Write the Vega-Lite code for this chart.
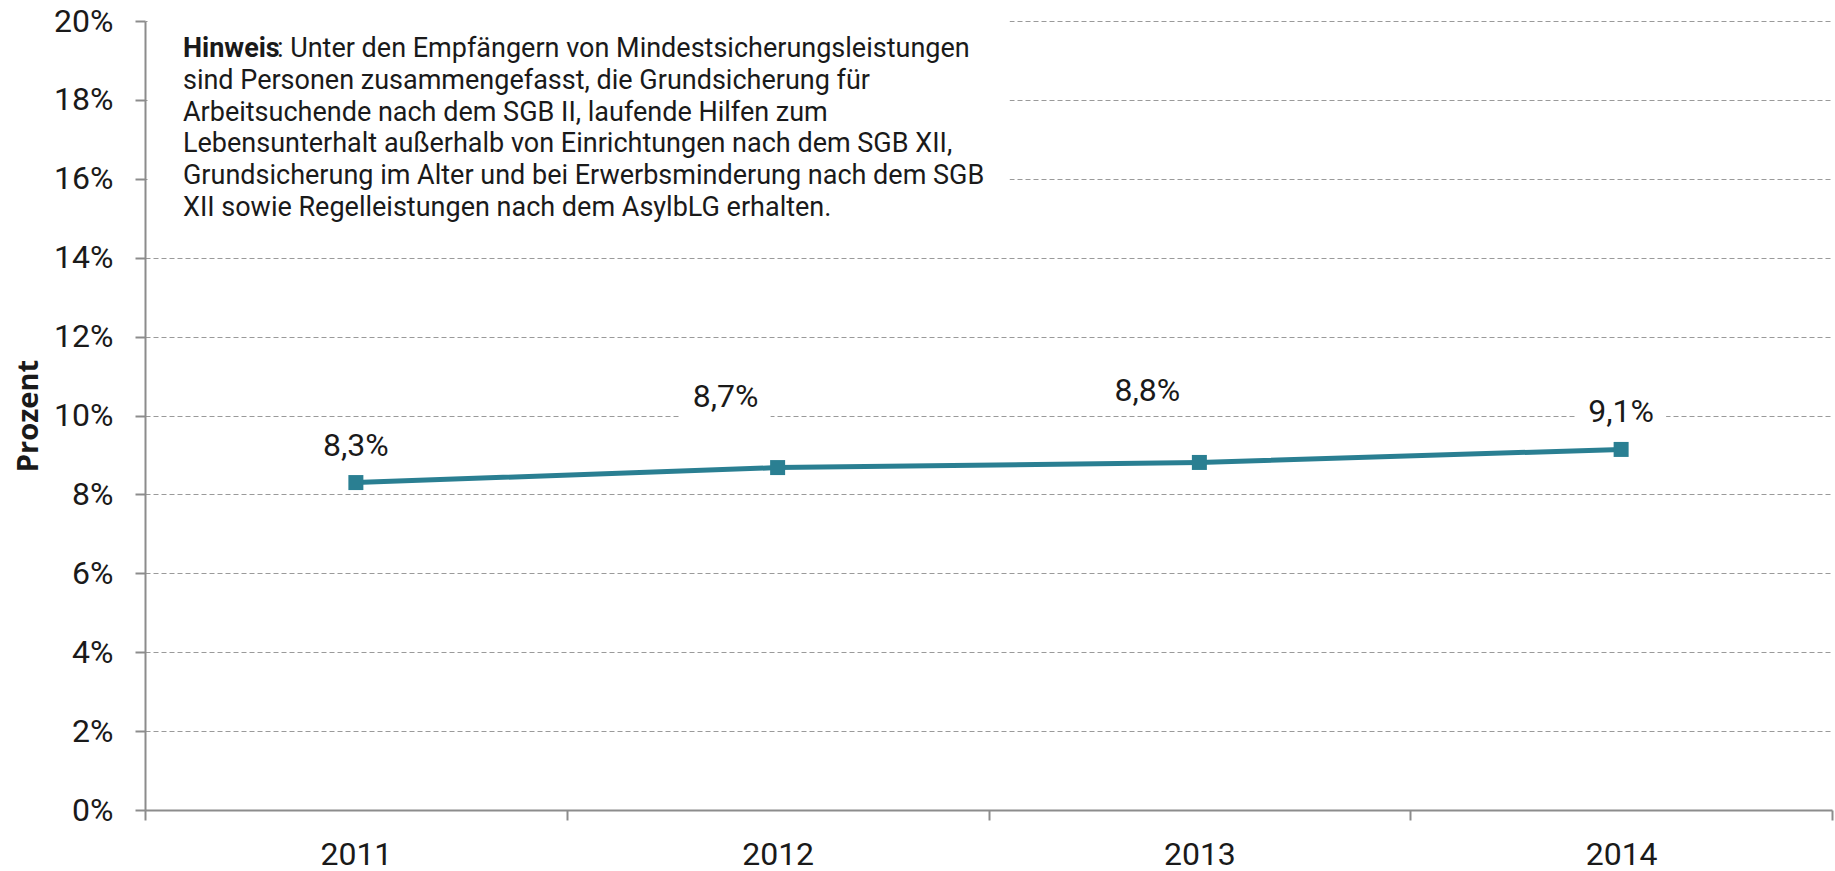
{
  "$schema": "https://vega.github.io/schema/vega-lite/v6.json",
  "width": 1687,
  "height": 789,
  "autosize": {"type": "none"},
  "padding": {"left": 145, "top": 21, "right": 3, "bottom": 61},
  "config": {"view": {"stroke": null}, "font": "Roboto"},
  "datasets": {
    "main": [
      {"year": "2011", "value": 8.3, "label": "8,3%"},
      {"year": "2012", "value": 8.68, "label": "8,7%"},
      {"year": "2013", "value": 8.81, "label": "8,8%"},
      {"year": "2014", "value": 9.14, "label": "9,1%"}
    ]
  },
  "layer": [
    {
      "data": {"values": [{}]},
      "layer": [
        {
          "mark": {"type": "rect", "color": "white", "opacity": 1},
          "encoding": {
            "x": {"datum": 0.0015, "type": "quantitative", "scale": {"domain": [0, 1]}, "axis": null},
            "x2": {"datum": 0.5125},
            "y": {"datum": 20, "type": "quantitative"},
            "y2": {"datum": 14.8}
          }
        },
        {
          "mark": {"type": "text", "text": "Hinweis", "font": "Roboto", "fontWeight": "bold", "fontSize": 27, "align": "left", "baseline": "alphabetic", "color": "#1a1a1a"},
          "encoding": {
            "x": {"datum": 0.0225, "type": "quantitative", "scale": {"domain": [0, 1]}, "axis": null},
            "y": {"datum": 19.09, "type": "quantitative"}
          }
        },
        {
          "mark": {"type": "text", "text": ": Unter den Empfängern von Mindestsicherungsleistungen", "font": "Roboto", "fontSize": 27, "align": "left", "baseline": "alphabetic", "dx": 94, "color": "#1a1a1a"},
          "encoding": {
            "x": {"datum": 0.0225, "type": "quantitative", "scale": {"domain": [0, 1]}, "axis": null},
            "y": {"datum": 19.09, "type": "quantitative"}
          }
        },
        {
          "mark": {"type": "text", "text": ["sind Personen zusammengefasst, die Grundsicherung für", "Arbeitsuchende nach dem SGB II, laufende Hilfen zum", "Lebensunterhalt außerhalb von Einrichtungen nach dem SGB XII,", "Grundsicherung im Alter und bei Erwerbsminderung nach dem SGB", "XII sowie Regelleistungen nach dem AsylbLG erhalten."], "font": "Roboto", "fontSize": 27, "align": "left", "baseline": "alphabetic", "lineHeight": 31.8, "color": "#1a1a1a"},
          "encoding": {
            "x": {"datum": 0.0225, "type": "quantitative", "scale": {"domain": [0, 1]}, "axis": null},
            "y": {"datum": 18.28, "type": "quantitative"}
          }
        }
      ]
    },
    {
      "data": {"name": "main"},
      "encoding": {
        "x": {
          "field": "year", "type": "ordinal", "bandPosition": 0.5,
          "scale": {"type": "band", "paddingInner": 0, "paddingOuter": 0},
          "axis": {
            "title": null, "labelAngle": 0, "tickBand": "extent", "grid": false,
            "domainColor": "#8c8c8c", "domainWidth": 2, "tickColor": "#8c8c8c", "tickWidth": 2, "tickSize": 10,
            "labelFont": "Roboto", "labelFontSize": 32, "labelColor": "#1a1a1a", "labelPadding": 19
          }
        },
        "y": {
          "field": "value", "type": "quantitative",
          "scale": {"domain": [0, 20], "nice": false},
          "axis": {
            "title": "Prozent", "titleFont": "Open Sans", "titleFontWeight": "bold", "titleFontSize": 29, "titleColor": "#1a1a1a", "titlePadding": 10,
            "values": [0, 2, 4, 6, 8, 10, 12, 14, 16, 18, 20],
            "labelExpr": "datum.value + '%'",
            "labelFont": "Roboto", "labelFontSize": 32, "labelColor": "#1a1a1a", "labelPadding": 22,
            "domainColor": "#8c8c8c", "domainWidth": 2, "tickColor": "#8c8c8c", "tickWidth": 2, "tickSize": 10,
            "grid": true, "gridColor": "#9a9a9a", "gridDash": [5, 3], "gridWidth": 1
          }
        }
      },
      "layer": [
        {
          "transform": [{"filter": "datum.year == '2011' || datum.year == '2014'"}],
          "mark": {"type": "point", "shape": "M-0.9,-1L0.9,-1L0.9,-0.32L-0.9,-0.32Z", "size": 10000, "filled": true, "color": "white", "opacity": 1, "strokeWidth": 0}
        },
        {
          "transform": [{"filter": "datum.year == '2012' || datum.year == '2013'"}],
          "mark": {"type": "point", "shape": "M-1.94,-1.68L-0.14,-1.68L-0.14,-1L-1.94,-1Z", "size": 10000, "filled": true, "color": "white", "opacity": 1, "strokeWidth": 0}
        },
        {
          "mark": {"type": "line", "color": "#2a7f92", "strokeWidth": 5}
        },
        {
          "mark": {"type": "point", "shape": "square", "size": 225, "filled": true, "color": "#2a7f92", "opacity": 1}
        },
        {
          "transform": [{"filter": "datum.year == '2011' || datum.year == '2014'"}],
          "mark": {"type": "text", "font": "Roboto", "fontSize": 32, "color": "#1a1a1a", "baseline": "alphabetic", "align": "center", "dy": -27},
          "encoding": {"text": {"field": "label"}}
        },
        {
          "transform": [{"filter": "datum.year == '2012' || datum.year == '2013'"}],
          "mark": {"type": "text", "font": "Roboto", "fontSize": 32, "color": "#1a1a1a", "baseline": "alphabetic", "align": "center", "dx": -52, "dy": -61},
          "encoding": {"text": {"field": "label"}}
        }
      ]
    }
  ],
  "resolve": {"scale": {"x": "independent"}}
}
